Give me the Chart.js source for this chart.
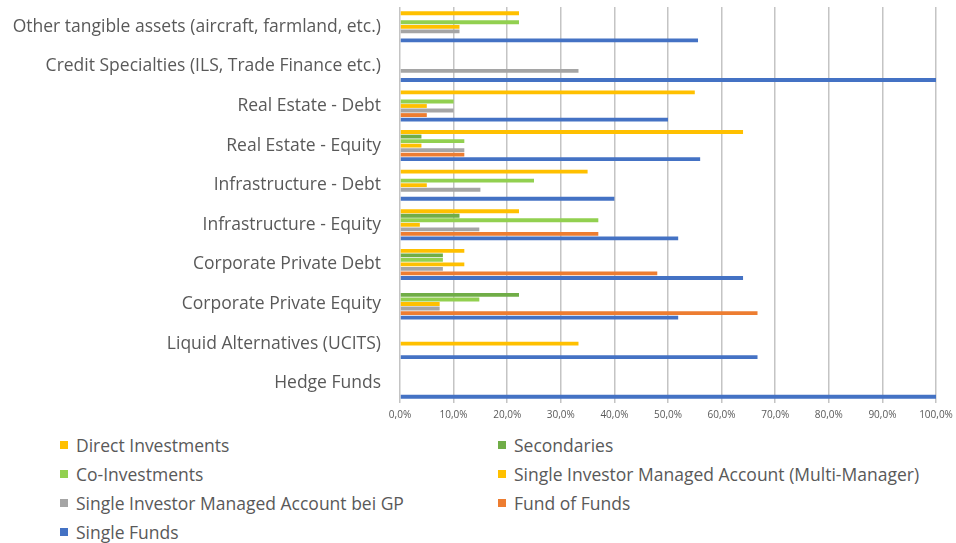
<!DOCTYPE html>
<html lang="en">
<head>
  <meta charset="UTF-8" />
  <title>Vehicles by asset class</title>
  <script src="https://cdn.jsdelivr.net/npm/chart.js"></script>
  <style>
    body { margin: 0; background: #fff; font-family: "Open Sans", sans-serif; color: #595959; }
    #wrap { position: relative; width: 956px; height: 543px; }
    #box { position: absolute; left: 0; top: 0; width: 956px; height: 427px; }
    #legend { position: absolute; left: 60px; top: 430px; display: grid; grid-template-columns: 438px 450px; }
    .item { height: 29px; display: flex; align-items: center; font-size: 17.5px; white-space: nowrap; }
    .sw { width: 8px; height: 8px; margin-right: 8px; }
  </style>
</head>
<body>
  <div id="wrap">
    <div id="box"><canvas id="chart"></canvas></div>
    <div id="legend"></div>
  </div>

  <script>
    // categories, top to bottom
    const categories = [
      'Other tangible assets (aircraft, farmland, etc.)',
      'Credit Specialties (ILS, Trade Finance etc.)',
      'Real Estate - Debt',
      'Real Estate - Equity',
      'Infrastructure - Debt',
      'Infrastructure - Equity',
      'Corporate Private Debt',
      'Corporate Private Equity',
      'Liquid Alternatives (UCITS)',
      'Hedge Funds'
    ];

    // values in %
    const directInvestments = [22.2, 0, 55, 64, 35, 22.2, 12, 0, 0, 0];
    const secondaries       = [0, 0, 0, 4, 0, 11.1, 8, 22.2, 0, 0];
    const coInvestments     = [22.2, 0, 10, 12, 25, 37, 8, 14.8, 0, 0];
    const simaMultiManager  = [11.1, 0, 5, 4, 5, 3.7, 12, 7.4, 33.3, 0];
    const simaGP            = [11.1, 33.3, 10, 12, 15, 14.8, 8, 7.4, 0, 0];
    const fundOfFunds       = [0, 0, 5, 12, 0, 37, 48, 66.7, 0, 0];
    const singleFunds       = [55.6, 100, 50, 56, 40, 51.9, 64, 51.9, 66.7, 100];

    const seriesNames = [
      'Direct Investments',
      'Secondaries',
      'Co-Investments',
      'Single Investor Managed Account (Multi-Manager)',
      'Single Investor Managed Account bei GP',
      'Fund of Funds',
      'Single Funds'
    ];
    const seriesData = [directInvestments, secondaries, coInvestments, simaMultiManager, simaGP, fundOfFunds, singleFunds];
    const seriesColors = ['#FFC000', '#70AD47', '#92D050', '#FFC000', '#A5A5A5', '#ED7D31', '#4472C4'];

    const xTicks = [0, 10, 20, 30, 40, 50, 60, 70, 80, 90, 100];

    const datasets = seriesNames.map((name, i) => ({
      label: name,
      data: seriesData[i],
      backgroundColor: seriesColors[i],
      borderWidth: 0,
      barPercentage: 0.85,
      categoryPercentage: 0.8
    }));

    const chart = new Chart(document.getElementById('chart'), {
      type: 'bar',
      data: { labels: categories, datasets: datasets },
      options: {
        indexAxis: 'y',
        responsive: true,
        maintainAspectRatio: false,
        animation: false,
        layout: { padding: { top: 7, left: 0, right: 0, bottom: 0 } },
        plugins: {
          legend: { display: false },
          tooltip: { enabled: false }
        },
        scales: {
          x: {
            min: 0,
            max: 100,
            afterBuildTicks: (s) => { s.ticks = xTicks.map(v => ({ value: v })); },
            afterFit: (s) => { s.paddingLeft = 0; s.paddingRight = 20; },
            ticks: {
              color: '#595959',
              font: { family: 'Open Sans', size: 10 },
              padding: 6,
              callback: (v) => v.toFixed(1).replace('.', ',') + '%'
            },
            grid: { color: '#c4c4c4', lineWidth: 1.5, drawTicks: false },
            border: { display: false }
          },
          y: {
            afterFit: (s) => { s.width = 400; s.paddingTop = 0; s.paddingBottom = 0; },
            ticks: {
              color: '#595959',
              font: { family: 'Open Sans', size: 17.5 },
              padding: 19
            },
            grid: { display: false, drawTicks: false },
            border: { display: false }
          }
        }
      }
    });

    // two-column legend below the chart
    const legendBox = document.getElementById('legend');
    chart.data.datasets.forEach(ds => {
      const item = document.createElement('div');
      item.className = 'item';
      const sw = document.createElement('span');
      sw.className = 'sw';
      sw.style.background = ds.backgroundColor;
      item.appendChild(sw);
      item.appendChild(document.createTextNode(ds.label));
      legendBox.appendChild(item);
    });
  </script>
</body>
</html>
